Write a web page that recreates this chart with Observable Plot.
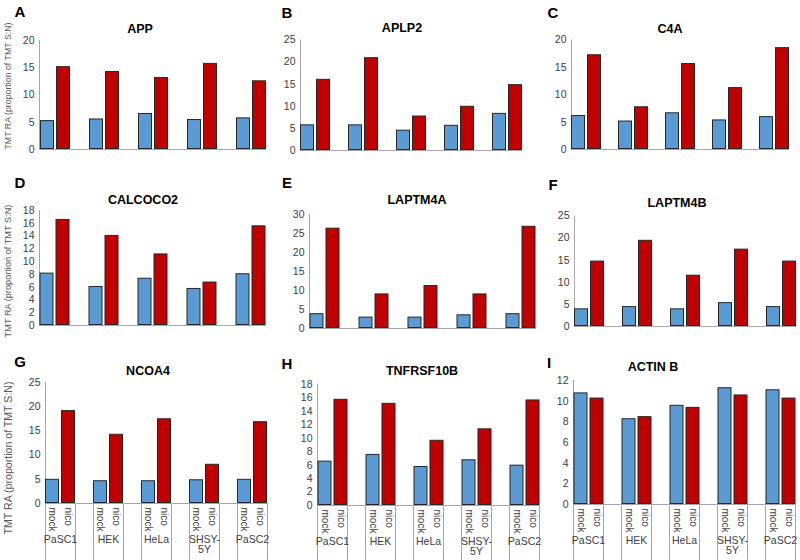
<!DOCTYPE html>
<html>
<head>
<meta charset="utf-8">
<script src="https://cdn.jsdelivr.net/npm/d3@7"></script>
<script src="https://cdn.jsdelivr.net/npm/@observablehq/plot@0.6"></script>
<style>
  html, body { margin: 0; padding: 0; background: #fff; overflow: hidden; }
  #root { position: relative; width: 800px; height: 560px; font-family: "Liberation Sans", Arial, sans-serif; }
  .panel { position: absolute; }
  .lbl { position: absolute; transform: translate(-50%, -50%); white-space: nowrap; color: #000; }
  .letter { font-weight: bold; font-size: 15px; }
  .title { font-weight: bold; font-size: 12.5px; }
  .ylab { position: absolute; white-space: nowrap; color: #595959; transform: translate(-50%, -50%) rotate(-90deg); }
</style>
</head>
<body>
<div id="root"></div>
<script>
// ---- data ----
const cells = ["PaSC1", "HEK", "HeLa", "SHSY-5Y", "PaSC2"];
const conditions = ["mock", "nico"];
const genes = ["APP", "APLP2", "C4A", "CALCOCO2", "LAPTM4A", "LAPTM4B", "NCOA4", "TNFRSF10B", "ACTIN B"];
const letters = ["A", "B", "C", "D", "E", "F", "G", "H", "I"];
const yTitle = "TMT RA (proportion of TMT S:N)";

const appMock = [5.3, 5.6, 6.6, 5.5, 5.8];
const appNico = [15.2, 14.3, 13.2, 15.8, 12.6];
const aplp2Mock = [5.8, 5.8, 4.6, 5.7, 8.4];
const aplp2Nico = [16.1, 21.0, 7.8, 10.0, 14.9];
const c4aMock = [6.2, 5.2, 6.7, 5.4, 6.0];
const c4aNico = [17.3, 7.8, 15.7, 11.3, 18.6];
const calcoco2Mock = [8.2, 6.1, 7.4, 5.8, 8.1];
const calcoco2Nico = [16.6, 14.1, 11.2, 6.8, 15.6];
const laptm4aMock = [3.9, 3.0, 3.0, 3.6, 3.9];
const laptm4aNico = [26.4, 9.1, 11.3, 9.1, 26.9];
const laptm4bMock = [4.0, 4.5, 4.0, 5.4, 4.5];
const laptm4bNico = [14.8, 19.5, 11.6, 17.5, 14.8];
const ncoa4Mock = [5.0, 4.7, 4.7, 4.9, 5.0];
const ncoa4Nico = [19.2, 14.3, 17.5, 8.1, 16.9];
const tnfrsf10bMock = [6.6, 7.6, 5.8, 6.8, 6.0];
const tnfrsf10bNico = [15.8, 15.2, 9.7, 11.4, 15.7];
const actinbMock = [10.8, 8.3, 9.6, 11.3, 11.1];
const actinbNico = [10.3, 8.5, 9.4, 10.6, 10.3];

const mockSeries = [appMock, aplp2Mock, c4aMock, calcoco2Mock, laptm4aMock, laptm4bMock, ncoa4Mock, tnfrsf10bMock, actinbMock];
const nicoSeries = [appNico, aplp2Nico, c4aNico, calcoco2Nico, laptm4aNico, laptm4bNico, ncoa4Nico, tnfrsf10bNico, actinbNico];

const yMax = [20, 25, 20, 18, 30, 25, 25, 18, 12];
const yStep = [5, 5, 5, 2, 5, 5, 5, 2, 2];

// ---- layout ----
const colLeft = [0, 270, 545], colWidth = [270, 275, 255];
const rowTop = [0, 175, 350], rowHeight = [175, 175, 210];
// per panel: margins [left, right, top, bottom]
const margins = [
  [37, 2, 40, 26], [30, 22, 39.5, 25], [24, 9, 39.5, 26],
  [37.5, 2, 35, 25], [37.5, 8, 39, 22], [29, 3, 40.5, 24],
  [45, 2, 32, 57], [45.5, 5, 34, 55], [27.5, 5, 30, 56]
];
const titlePos = [[140, 29], [402, 28], [670, 29], [143, 200], [417, 200], [677, 203], [148, 371], [422, 371], [653, 367]];
const letterPos = [[20, 11], [287, 12], [553, 12], [20, 182], [287, 182], [553, 184], [20, 361], [287, 363], [549, 362]];
const yLabPos = [[8, 86, 8.8], [8, 271, 9.2], [8, 458, 10.6]];

const blue = "#5b9bd5", red = "#c00000", axisGray = "#a6a6a6", textGray = "#404040";
const fxPad = 0.37;

const root = document.getElementById("root");

genes.forEach((gene, i) => {
  const col = i % 3, row = Math.floor(i / 3);
  const [ml, mr, mt, mb] = margins[i];
  const width = colWidth[col], height = rowHeight[row];
  const bottom = row === 2;
  const rows = [];
  cells.forEach((c, j) => {
    rows.push({cell: c, cond: "mock", value: mockSeries[i][j]});
    rows.push({cell: c, cond: "nico", value: nicoSeries[i][j]});
  });
  const W = width - ml - mr;
  const fxStep = W / (cells.length - fxPad);
  const gap = fxStep * fxPad;
  const plotH = height - mt - mb;

  const marks = [
    Plot.axisY({ticks: d3.range(0, yMax[i] + 1e-9, yStep[i]), tickSize: 0, tickPadding: 5, label: null, fill: textGray, fontSize: 10.5}),
    Plot.frame({anchor: "left", facetAnchor: "left", stroke: axisGray, strokeWidth: 1}),
    Plot.ruleY(cells.slice(0, -1), {fx: d => d, y: () => 0, stroke: axisGray, strokeWidth: 1, insetRight: -gap}),
    Plot.ruleY(cells.slice(-1), {fx: d => d, y: () => 0, stroke: axisGray, strokeWidth: 1}),
    Plot.barY(rows, {fx: "cell", x: "cond", y: "value", fill: "cond", stroke: "#262626", strokeWidth: 1, inset: 0.5})
  ];
  if (bottom) {
    marks.push(Plot.axisX({tickRotate: 90, tickSize: 0, tickPadding: 4, label: null, fill: textGray, fontSize: 10}));
    marks.push(Plot.frame({stroke: axisGray, strokeWidth: 1, insetTop: plotH, insetBottom: -90}));
    marks.push(Plot.text(cells, {fx: d => d, text: d => d.replace("-", "-\n"), frameAnchor: "bottom", dy: 32, lineAnchor: "top", fontSize: 10.5, fill: textGray, lineHeight: 1.0}));
  }

  const plot = Plot.plot({
    width, height,
    marginLeft: ml, marginRight: mr, marginTop: mt, marginBottom: mb,
    style: {background: "transparent", fontFamily: "'Liberation Sans', Arial, sans-serif", fontSize: "10.5px", color: textGray},
    fx: {domain: cells, paddingInner: fxPad, paddingOuter: 0, axis: null, label: null},
    x: {domain: conditions, paddingInner: 0.15, paddingOuter: 0, axis: null, label: null},
    y: {domain: [0, yMax[i]], label: null},
    color: {domain: conditions, range: [blue, red]},
    marks
  });
  const holder = document.createElement("div");
  holder.className = "panel";
  holder.style.left = colLeft[col] + "px";
  holder.style.top = rowTop[row] + "px";
  holder.appendChild(plot);
  root.appendChild(holder);

  const t = document.createElement("div");
  t.className = "lbl title";
  t.textContent = gene;
  t.style.left = titlePos[i][0] + "px";
  t.style.top = titlePos[i][1] + "px";
  root.appendChild(t);

  const l = document.createElement("div");
  l.className = "lbl letter";
  l.textContent = letters[i];
  l.style.left = letterPos[i][0] + "px";
  l.style.top = letterPos[i][1] + "px";
  root.appendChild(l);
});

yLabPos.forEach(([x, y, fs]) => {
  const d = document.createElement("div");
  d.className = "ylab";
  d.textContent = yTitle;
  d.style.left = x + "px";
  d.style.top = y + "px";
  d.style.fontSize = fs + "px";
  root.appendChild(d);
});
</script>
</body>
</html>
